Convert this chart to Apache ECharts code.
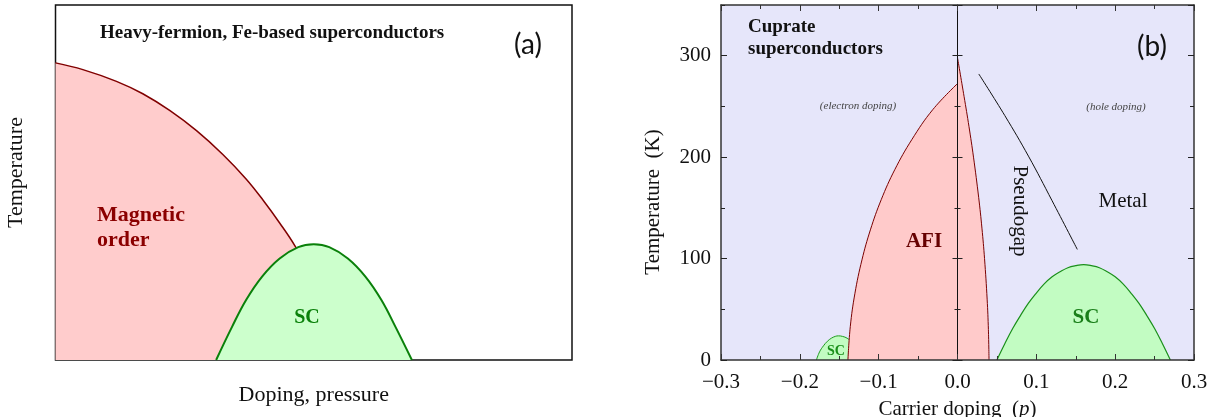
<!DOCTYPE html>
<html>
<head>
<meta charset="utf-8">
<script src="https://cdn.jsdelivr.net/npm/echarts@6/dist/echarts.min.js"></script>
<style>html,body{margin:0;padding:0;background:#fff}#c{width:1210px;height:417px}</style>
</head>
<body>
<div id="c"></div>
<script>
// ---------- Panel (a): heavy-fermion / Fe-based (arbitrary units 0-100) ----------
const magX = [0, 5.3, 11.8, 16.9, 22.1, 27.3, 32.4, 36.9, 40.2, 43.4, 46.3, 48.2, 50.7, 52.1];
const magT = [83.7, 81.8, 78.5, 75.0, 70.3, 64.6, 57.9, 51.0, 45.0, 38.6, 32.3, 27.0, 14.0, 0];
const scAX = [31.1, 34.2, 36.9, 40.0, 43.4, 47.0, 50.0, 53.0, 56.6, 60.0, 63.1, 65.8, 69.0];
const scAT = [0, 9.4, 16.9, 23.5, 28.6, 31.8, 32.6, 31.8, 28.6, 23.5, 16.9, 9.4, 0];

// ---------- Panel (b): cuprates ----------
const afiLeftP = [-0.139, -0.136, -0.1301, -0.1212, -0.1105, -0.0968, -0.0796, -0.058, -0.0314, 0];
const afiLeftT = [0, 32.9, 65.8, 98.7, 128.3, 158, 187.6, 217.2, 246.8, 272.5];
const afiRightP = [0, 0.0083, 0.0146, 0.0203, 0.0269, 0.031, 0.0343, 0.0376, 0.0392, 0.040];
const afiRightT = [298, 260, 230, 200, 160, 130, 100, 60, 30, 0];
const scElecP = [-0.179, -0.175, -0.170, -0.165, -0.160, -0.155, -0.151, -0.146, -0.140, -0.134, -0.128, -0.123];
const scElecT = [0, 8, 14, 18.5, 21.5, 23.3, 23.8, 23.3, 21.5, 17.5, 11, 0];
const scHoleP = [0.05, 0.06, 0.07, 0.08, 0.09, 0.10, 0.11, 0.12, 0.13, 0.14, 0.15, 0.16, 0.17, 0.18, 0.19, 0.20, 0.21, 0.22, 0.23, 0.24, 0.25, 0.26, 0.27];
const scHoleT = [0, 16, 31, 44, 56, 66, 75, 82, 87, 91, 93, 94, 93, 91, 87, 82, 75, 66, 56, 44, 31, 16, 0];
const pgP = [0.027, 0.060, 0.090, 0.120, 0.152];
const pgT = [282, 241, 201, 157, 109];

const pMin = -0.3, pMax = 0.3, pMajor = 0.1, pMinor = 0.05;
const tMin = 0, tMax = 350, tMajor = 100, tMinor = 50;

const zip = (a, b) => a.map((v, i) => [v, b[i]]);
const SERIF = 'Liberation Serif';
const fmtP = v => { const r = Math.round(v * 10) / 10; if (Math.abs(r) < 1e-9) return '0.0'; return (r < 0 ? '\u2212' : '') + Math.abs(r).toFixed(1); };

function xAx(pos, interval, len, withLabels, showLine, extra) {
  return Object.assign({
    gridIndex: 1, type: 'value', position: pos, min: pMin, max: pMax, interval: interval, z: 5,
    axisLine: { show: showLine, onZero: false, lineStyle: { color: '#333', width: 1.5 } },
    axisTick: { show: true, inside: true, length: len, lineStyle: { color: '#333', width: 1 } },
    axisLabel: { show: withLabels, margin: 12, fontFamily: SERIF, fontSize: 21, color: '#111', formatter: fmtP },
    splitLine: { show: false }
  }, extra || {});
}
function yAx(pos, interval, len, opts) {
  opts = opts || {};
  return Object.assign({
    gridIndex: 1, type: 'value', position: pos, min: tMin, max: tMax, interval: interval, z: 5,
    axisLine: { show: !!opts.line, onZero: !!opts.onZero, onZeroAxisIndex: opts.onZero ? 1 : undefined,
      lineStyle: { color: opts.onZero ? '#111' : '#333', width: opts.onZero ? 1 : 1.5 } },
    axisTick: { show: true, inside: true, length: len, lineStyle: { color: '#222', width: 1 } },
    axisLabel: { show: !!opts.labels, margin: 10, fontFamily: SERIF, fontSize: 21, color: '#111', showMaxLabel: false },
    splitLine: { show: false }
  }, opts.extra || {});
}

const chart = echarts.init(document.getElementById('c'), null, { renderer: 'canvas' });
chart.setOption({
  animation: false,
  backgroundColor: '#fff',
  grid: [
    { left: 55.5, top: 5, width: 516.5, height: 355, show: true, borderColor: '#111', borderWidth: 1.5, backgroundColor: '#fff', containLabel: false, outerBoundsMode: 'none' },
    { left: 721, top: 5, width: 473, height: 355, show: true, borderColor: '#333', borderWidth: 0, backgroundColor: '#e6e6fa', containLabel: false, outerBoundsMode: 'none' }
  ],
  xAxis: [
    { gridIndex: 0, type: 'value', min: 0, max: 100, axisLine: { show: false, onZero: false }, axisTick: { show: false }, axisLabel: { show: false }, splitLine: { show: false },
      name: 'Doping, pressure', nameLocation: 'middle', nameGap: 24, nameTextStyle: { fontFamily: SERIF, fontSize: 22, color: '#111' } },
    xAx('bottom', pMajor, 6, true, true, { name: 'Carrier doping  ({i|p})', nameLocation: 'middle', nameGap: 39,
      nameTextStyle: { fontFamily: SERIF, fontSize: 21, color: '#111', rich: { i: { fontFamily: SERIF, fontStyle: 'italic', fontSize: 21, color: '#111' } } } }),
    xAx('bottom', pMinor, 4, false, false),
    xAx('top', pMajor, 6, false, true),
    xAx('top', pMinor, 4, false, false)
  ],
  yAxis: [
    { gridIndex: 0, type: 'value', min: 0, max: 100, axisLine: { show: false, onZero: false }, axisTick: { show: false }, axisLabel: { show: false }, splitLine: { show: false },
      name: 'Temperature', nameLocation: 'middle', nameGap: 28, nameTextStyle: { fontFamily: SERIF, fontSize: 22, color: '#111', padding: [0, 0, 0, 20] } },
    yAx('left', tMajor, 6, { line: true, labels: true, extra: { name: 'Temperature  (K)', nameLocation: 'middle', nameGap: 57,
      nameTextStyle: { fontFamily: SERIF, fontSize: 21, color: '#111', padding: [0, 39, 0, 0] } } }),
    yAx('left', tMinor, 4, {}),
    yAx('right', tMajor, 6, { line: true }),
    yAx('right', tMinor, 4, {}),
    yAx('left', tMajor, 5, { onZero: true, line: true }),
    yAx('left', tMinor, 3, { onZero: true }),
    yAx('right', tMajor, 5, { onZero: true }),
    yAx('right', tMinor, 3, { onZero: true })
  ],
  series: [
    { name: 'Magnetic order', type: 'line', xAxisIndex: 0, yAxisIndex: 0, data: zip(magX, magT), smooth: 0.4, symbol: 'none', z: 2,
      lineStyle: { color: '#800000', width: 1.5 }, areaStyle: { color: '#ffcccc', opacity: 1 } },
    { name: 'SC (a)', type: 'line', xAxisIndex: 0, yAxisIndex: 0, data: zip(scAX, scAT), smooth: 0.4, symbol: 'none', z: 3,
      lineStyle: { color: '#0a800a', width: 2 }, areaStyle: { color: '#ccffcc', opacity: 1 } },
    { name: 'SC electron', type: 'line', xAxisIndex: 1, yAxisIndex: 1, data: zip(scElecP, scElecT), smooth: 0.4, symbol: 'none', z: 2,
      lineStyle: { color: '#1f9a1f', width: 1 }, areaStyle: { color: '#c2fcc2', opacity: 1 } },
    { name: 'AFI left', type: 'line', xAxisIndex: 1, yAxisIndex: 1, data: zip(afiLeftP, afiLeftT), smooth: 0.4, symbol: 'none', z: 3,
      lineStyle: { color: '#7a0000', width: 1 }, areaStyle: { color: '#ffcaca', opacity: 1 } },
    { name: 'AFI right', type: 'line', xAxisIndex: 1, yAxisIndex: 1, data: zip(afiRightP, afiRightT), smooth: 0.4, symbol: 'none', z: 3,
      lineStyle: { color: '#7a0000', width: 1 }, areaStyle: { color: '#ffcaca', opacity: 1 } },
    { name: 'SC hole', type: 'line', xAxisIndex: 1, yAxisIndex: 1, data: zip(scHoleP, scHoleT), smooth: 0.4, symbol: 'none', z: 3,
      lineStyle: { color: '#1a8f1a', width: 1.2 }, areaStyle: { color: '#c2fcc2', opacity: 1 } },
    { name: 'Pseudogap', type: 'line', xAxisIndex: 1, yAxisIndex: 1, data: zip(pgP, pgT), smooth: 0.4, symbol: 'none', z: 3,
      lineStyle: { color: '#111', width: 1 } }
  ],
  graphic: [
    { type: 'text', x: 100, y: 33, z: 10, style: { text: 'Heavy-fermion, Fe-based superconductors', fontFamily: SERIF, fontWeight: 'bold', fontSize: 19, fill: '#111', align: 'left', verticalAlign: 'middle' } },
    { type: 'text', x: 528, y: 45, z: 10, style: { text: '(a)', fontFamily: 'Lato', fontSize: 28, fill: '#111', align: 'center', verticalAlign: 'middle' } },
    { type: 'text', x: 97, y: 227.5, z: 10, style: { text: 'Magnetic\norder', fontFamily: SERIF, fontWeight: 'bold', fontSize: 22, lineHeight: 25, fill: '#8b0000', align: 'left', verticalAlign: 'middle' } },
    { type: 'text', x: 307, y: 318, z: 10, style: { text: 'SC', fontFamily: SERIF, fontWeight: 'bold', fontSize: 20, fill: '#0a800a', align: 'center', verticalAlign: 'middle' } },
    { type: 'text', x: 748, y: 38, z: 10, style: { text: 'Cuprate\nsuperconductors', fontFamily: SERIF, fontWeight: 'bold', fontSize: 19, lineHeight: 22, fill: '#111', align: 'left', verticalAlign: 'middle' } },
    { type: 'text', x: 1152, y: 47, z: 10, style: { text: '(b)', fontFamily: 'Lato', fontSize: 28, fill: '#111', align: 'center', verticalAlign: 'middle' } },
    { type: 'text', x: 858, y: 106, z: 10, style: { text: '(electron doping)', fontFamily: SERIF, fontStyle: 'italic', fontSize: 11, fill: '#444', align: 'center', verticalAlign: 'middle' } },
    { type: 'text', x: 1116, y: 107, z: 10, style: { text: '(hole doping)', fontFamily: SERIF, fontStyle: 'italic', fontSize: 11, fill: '#444', align: 'center', verticalAlign: 'middle' } },
    { type: 'text', x: 1123, y: 201, z: 10, style: { text: 'Metal', fontFamily: SERIF, fontSize: 21, fill: '#111', align: 'center', verticalAlign: 'middle' } },
    { type: 'text', x: 1020, y: 211, z: 10, rotation: -Math.PI / 2, style: { text: 'Pseudogap', fontFamily: SERIF, fontSize: 21, fill: '#111', align: 'center', verticalAlign: 'middle' } },
    { type: 'text', x: 924, y: 242, z: 10, style: { text: 'AFI', fontFamily: SERIF, fontWeight: 'bold', fontSize: 21, fill: '#660000', align: 'center', verticalAlign: 'middle' } },
    { type: 'text', x: 1086, y: 318, z: 10, style: { text: 'SC', fontFamily: SERIF, fontWeight: 'bold', fontSize: 21, fill: '#1a7f1a', align: 'center', verticalAlign: 'middle' } },
    { type: 'text', x: 836, y: 351, z: 10, style: { text: 'SC', fontFamily: SERIF, fontWeight: 'bold', fontSize: 14, fill: '#1a8f1a', align: 'center', verticalAlign: 'middle' } }
  ]
});
</script>
</body>
</html>
